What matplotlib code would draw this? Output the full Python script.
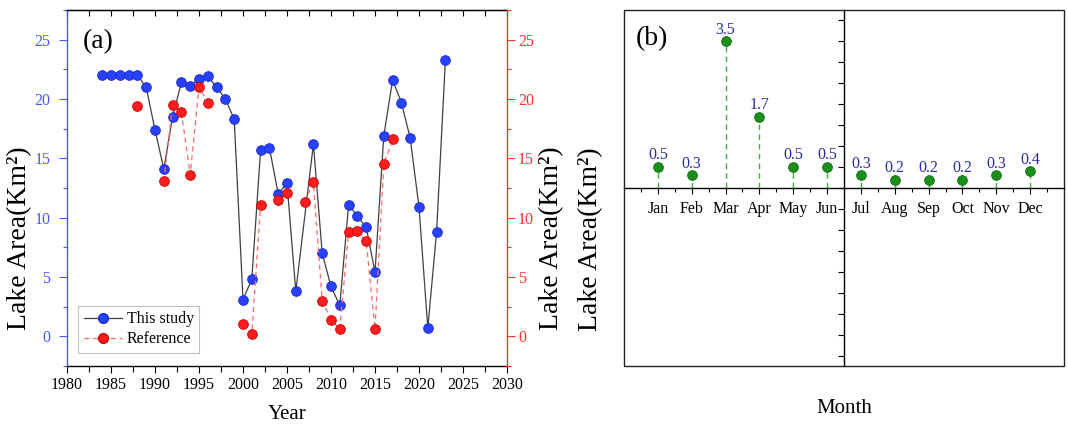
import numpy as np
import matplotlib
matplotlib.use('Agg')
import matplotlib.pyplot as plt
from matplotlib.ticker import MultipleLocator, FixedLocator
from matplotlib.lines import Line2D
from matplotlib.patches import Rectangle

plt.rcParams['font.family'] = ['Liberation Serif', 'DejaVu Serif']

# ---------------- data ----------------
study_years = [1984, 1985, 1986, 1987, 1988, 1989, 1990, 1991, 1992, 1993,
               1994, 1995, 1996, 1997, 1998, 1999, 2000, 2001, 2002, 2003,
               2004, 2005, 2006, 2008, 2009, 2010, 2011, 2012, 2013, 2014,
               2015, 2016, 2017, 2018, 2019, 2020, 2021, 2022, 2023]
study_area = [22.0, 22.0, 22.0, 22.0, 22.0, 21.0, 17.4, 14.1, 18.5, 21.4,
              21.1, 21.7, 21.9, 21.0, 20.0, 18.3, 3.1, 4.8, 15.7, 15.9,
              12.0, 12.9, 3.8, 16.2, 7.0, 4.2, 2.6, 11.1, 10.1, 9.2,
              5.4, 16.9, 21.6, 19.7, 16.7, 10.9, 0.7, 8.8, 23.3]

ref_years = list(range(1988, 2018))
ref_area = [19.4, np.nan, np.nan, 13.1, 19.5, 18.9, 13.6, 21.0, 19.7, np.nan,
            np.nan, np.nan, 1.0, 0.2, 11.1, np.nan, 11.5, 12.1, np.nan, 11.3,
            13.0, 3.0, 1.4, 0.6, 8.8, 8.9, 8.0, 0.6, 14.5, 16.6]

months = ['Jan', 'Feb', 'Mar', 'Apr', 'May', 'Jun',
          'Jul', 'Aug', 'Sep', 'Oct', 'Nov', 'Dec']
month_area = [0.5, 0.3, 3.5, 1.7, 0.5, 0.5, 0.3, 0.2, 0.2, 0.2, 0.3, 0.4]

ylab = 'Lake Area(Km²)'
BLUE = '#2840ff'
AXBLUE = '#4a55ff'
RED = '#ff1e1e'
AXRED = '#ff3030'

fig = plt.figure(figsize=(10.68, 4.28), dpi=100)
W, H = 1068, 428

# ---------------- panel (a) ----------------
axa = fig.add_axes([67 / W, 1 - 366 / H, 440 / W, 356 / H])
axr = axa.twinx()

axa.plot(study_years, study_area, '-', color='#404040', lw=0.9, zorder=2)
axa.plot(study_years, study_area, 'o', color=BLUE, mec='#1a2ad0', mew=0.6,
         ms=7, zorder=3)
axr.plot(ref_years, ref_area, '--', color='#ff6a6a', lw=0.9, dashes=(4, 3), zorder=2)
axr.plot(ref_years, ref_area, 'o', color=RED, mec='#d00000', mew=0.6,
         ms=7, zorder=3)

for ax in (axa, axr):
    ax.set_ylim(-2.5, 27.5)
axa.set_xlim(1980, 2030)

axa.xaxis.set_major_locator(MultipleLocator(5))
axa.xaxis.set_minor_locator(MultipleLocator(2.5))
axa.tick_params(axis='x', which='major', direction='out', length=5, width=0.8,
                labelsize=11.5, pad=3)
axa.tick_params(axis='x', which='minor', direction='out', length=4, width=0.8)

sec = axa.secondary_xaxis('top')
sec.xaxis.set_major_locator(MultipleLocator(5))
sec.xaxis.set_minor_locator(MultipleLocator(2.5))
sec.tick_params(axis='x', which='both', direction='in', length=4, width=0.8,
                labeltop=False)

for ax, col, side in ((axa, AXBLUE, 'left'), (axr, AXRED, 'right')):
    ax.yaxis.set_major_locator(MultipleLocator(5))
    ax.yaxis.set_minor_locator(MultipleLocator(2.5))
    ax.tick_params(axis='y', which='major', direction='out', length=6,
                   width=0.8, colors=col, labelsize=11.5,
                   pad=6 if side == 'left' else 2)
    ax.tick_params(axis='y', which='minor', direction='out', length=3,
                   width=0.8, colors=col)

axa.spines['left'].set_color(AXBLUE)
axa.spines['right'].set_visible(False)
axr.spines['right'].set_color(AXRED)
for s in ('left', 'top', 'bottom'):
    axr.spines[s].set_visible(False)
for s in axa.spines.values():
    s.set_linewidth(1.0)
axr.spines['right'].set_linewidth(1.0)

axa.set_xlabel('Year', fontsize=15)
axa.xaxis.set_label_coords(0.5, -0.135)
axa.xaxis.label.set_va('center')
axa.set_ylabel(ylab, fontsize=20)
axa.yaxis.set_label_coords(-0.108, 0.36)
axa.yaxis.label.set_va('center')
axr.set_ylabel(ylab, fontsize=20)
axr.yaxis.set_label_coords(1.102, 0.36)
axr.yaxis.label.set_va('center')

axa.text(0.036, 0.91, '(a)', transform=axa.transAxes, fontsize=20,
         ha='left', va='center')

handles = [
    Line2D([], [], color='#404040', lw=0.9, marker='o', mfc=BLUE, mec='#1a2ad0',
           ms=7),
    Line2D([], [], color='#ff6a6a', lw=0.9, ls='--', dashes=(4, 3), marker='o',
           mfc=RED, mec='#d00000', ms=7),
]
leg = axr.legend(handles, ['This study', 'Reference'], loc='lower left',
                 bbox_to_anchor=(0.025, 0.037), borderaxespad=0, fontsize=11.5,
                 frameon=True, fancybox=False, edgecolor='#b0b0b0',
                 handlelength=2.4, handletextpad=0.3, borderpad=0.35,
                 labelspacing=0.25)
leg.get_frame().set_linewidth(0.8)

# ---------------- panel (b) ----------------
axb = fig.add_axes([624 / W, 1 - 366 / H, 440 / W, 356 / H])
xm = np.arange(1, len(months) + 1)
axb.vlines(xm, 0, month_area, colors='#3cb43c', linestyles=(0, (4, 3)), lw=1)
axb.plot(xm, month_area, 'o', color='#1a8f1a', mec='#0d6a0d', mew=0.6, ms=7,
         zorder=3)
for xi, v in zip(xm, month_area):
    axb.annotate(f'{v:.1f}', (xi, v), xytext=(0, 5.5), textcoords='offset points',
                 ha='center', va='baseline', color='#2b2ba0', fontsize=11.5)

axb.set_xlim(0, 13)
axb.set_ylim(-4.25, 4.25)
axb.spines['left'].set_position(('data', 6.5))
axb.spines['bottom'].set_position(('data', 0))
axb.spines['top'].set_visible(False)
axb.spines['right'].set_visible(False)
for s in ('left', 'bottom'):
    axb.spines[s].set_linewidth(1.0)
axb.add_patch(Rectangle((0, 0), 1, 1, transform=axb.transAxes, fill=False,
                        lw=1.0, ec='#222222', clip_on=False))

axb.set_xticks(xm)
axb.set_xticklabels(months)
axb.xaxis.set_minor_locator(FixedLocator(np.arange(0.5, 13, 1.0)))
axb.yaxis.set_major_locator(MultipleLocator(0.5))
axb.tick_params(axis='y', which='major', direction='out', length=4, width=0.8,
                labelleft=False)
axb.tick_params(axis='x', which='major', direction='out', length=4, width=0.8,
                labelsize=11.5, pad=5.5)
axb.tick_params(axis='x', which='minor', direction='out', length=3, width=0.8)

axb.set_xlabel('Month', fontsize=15)
axb.xaxis.set_label_coords(0.5, -0.118)
axb.xaxis.label.set_va('center')
axb.set_ylabel(ylab, fontsize=20)
axb.yaxis.set_label_coords(-0.077, 0.355)
axb.yaxis.label.set_va('center')

axb.text(0.027, 0.921, '(b)', transform=axb.transAxes, fontsize=20,
         ha='left', va='center')

fig.savefig('out.png', dpi=100)
